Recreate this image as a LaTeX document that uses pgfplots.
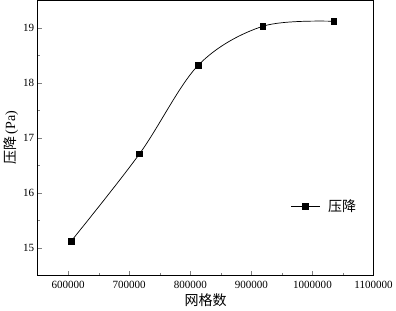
\documentclass[border=0pt]{standalone}
\usepackage{pgfplots}
\pgfplotsset{compat=1.18}
\usepackage{fontspec}
\setmainfont{Liberation Serif}
\newfontfamily\cjk{Noto Sans CJK SC}
\begin{document}
\begin{tikzpicture}
\begin{axis}[
  scale only axis,
  width=335pt, height=274pt,
  xmin=550000, xmax=1100000,
  ymin=14.5, ymax=19.5,
  xtick={600000,700000,800000,900000,1000000,1100000},
  ytick={15,16,17,18,19},
  minor x tick num=1, minor y tick num=1,
  tick pos=left,
  tick align=inside,
  major tick length=4pt, minor tick length=2.2pt,
  scaled x ticks=false,
  /pgf/number format/fixed,
  /pgf/number format/1000 sep={},
  /pgf/number format/assume math mode=true,
  tick label style={font=\fontsize{11}{13}\selectfont},
  xticklabel style={yshift=-2pt},
  xlabel={\cjk 网格数},
  ylabel={{\cjk 压降}\,(Pa)},
  label style={font=\fontsize{14}{16}\selectfont},
  xlabel style={yshift=1pt},
  ylabel style={yshift=-2pt},
  axis line style={line width=0.8pt},
  legend style={at={(0.745,0.25)}, anchor=west, draw=none, fill=none, font=\fontsize{14}{16}\selectfont\cjk,
    nodes={fill=none}},
  legend cell align=left,
  legend image code/.code={\draw[mark=none, line width=0.8pt] (-14pt,0pt) -- (14pt,0pt); \draw plot coordinates {(0pt,0pt)};},
]
\addplot[black, line width=0.7pt, smooth, tension=0.55, mark=square*, mark size=2.8pt, mark options={solid}]
  coordinates {(605000,15.12) (717000,16.71) (813000,18.32) (919000,19.03) (1035000,19.12)};
\addlegendentry{\hspace{6pt}压降}
\end{axis}
\end{tikzpicture}
\end{document}
